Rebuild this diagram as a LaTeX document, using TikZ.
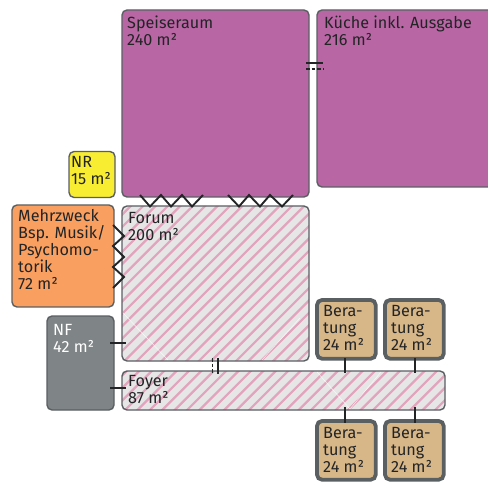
\documentclass[tikz,border=0pt]{standalone}
\usepackage{fontspec}
\setmainfont{Fira Sans}
\usetikzlibrary{calc}
\definecolor{bd}{HTML}{5A5F62}
\definecolor{purp}{HTML}{B966A4}
\definecolor{oran}{HTML}{F9A060}
\definecolor{yell}{HTML}{F9ED32}
\definecolor{grayr}{HTML}{7F8486}
\definecolor{tan2}{HTML}{D7B688}
\definecolor{hatchbg}{HTML}{E6E6E6}
\definecolor{hatchln}{HTML}{E2A4BC}
\definecolor{dk}{HTML}{222426}
\tikzset{
  x=1pt,y=-1pt,
  room/.style={draw=bd,line width=1.4pt,rounded corners=5pt,inner sep=0pt,outer sep=0pt,anchor=north west},
  berat/.style={room,draw=bd,line width=3.8pt,fill=tan2,minimum width=58.7pt,minimum height=58.7pt},
  lab/.style={anchor=north west,inner sep=0pt,align=left,font=\fontsize{16.2}{17}\selectfont,text=dk},
  conn/.style={draw=dk,line width=1.9pt},
  seam/.style={draw=white,line width=0.5pt,opacity=0.8},
  hatched/.style={fill=hatchbg,path picture={
    \foreach \k in {-90,...,90}{
      \draw[hatchln,line width=2.2pt] (\k*12.4+#1-500,500) -- (\k*12.4+#1+500,-500);
    }}},
}
\begin{document}
\begin{tikzpicture}
\useasboundingbox (0,0) rectangle (488,484);
\clip (0,0) rectangle (488,484);
% rooms
\node[room,fill=purp,minimum width=187pt,minimum height=187pt] (speise) at (122,10) {};
\node[room,fill=purp,minimum width=180pt,minimum height=177pt] (kueche) at (317,10) {};
\node[room,fill=yell,minimum width=46pt,minimum height=46pt] (nr) at (69,151.5) {};
\node[room,fill=oran,minimum width=102pt,minimum height=102pt] (mehr) at (12,205) {};
\node[room,hatched=-100.3,minimum width=187pt,minimum height=155pt] (forum) at (122,206) {};
\node[room,fill=grayr,minimum width=67pt,minimum height=94pt] (nf) at (47,316) {};
\node[room,hatched=-275.3,minimum width=323pt,minimum height=39pt] (foyer) at (122,371) {};
\node[berat] (b1) at (317,300) {};
\node[berat] (b2) at (385,300) {};
\node[berat] (b3) at (317,421) {};
\node[berat] (b4) at (385,421) {};
% seams
\draw[seam] (122.7,312.7)--(168,360);
\draw[seam] (262,360)--(300,318);
\draw[seam] (317,372)--(350,409)--(381,372);
% labels
\node[lab] (t1) at (127,16) {Speiseraum\\240 m²};
\node[lab] (t2) at (324,15.5) {Küche inkl. Ausgabe\\216 m²};
\node[lab] (t3) at (71,156) {NR\\15 m²};
\node[lab] (t4) at (18,209.5) {Mehrzweck\\Bsp. Musik/\\Psychomo-\\torik\\72 m²};
\node[lab] (t5) at (128,212) {Forum\\200 m²};
\node[lab,text=white] (t6) at (53,324) {NF\\42 m²};
\node[lab] (t7) at (128,375) {Foyer\\87 m²};
\node[lab] (t8) at (323,305) {Bera-\\tung\\24 m²};
\node[lab] (t9) at (391,305) {Bera-\\tung\\24 m²};
\node[lab] (t10) at (323,427) {Bera-\\tung\\24 m²};
\node[lab] (t11) at (391,427) {Bera-\\tung\\24 m²};
% zigzag connectors
\draw[conn] (140,195)--(150,206.5)--(161,195)--(171,206.5)--(182,195)--(192,206.5)--(203,195);
\draw[conn] (228,195)--(239,206.5)--(249,195)--(260,206.5)--(270,195)--(282,206.5)--(293,195);
\draw[conn] (113,225)--(124,236)--(113,246)--(124,257)--(113,267)--(124,277)--(113,288);
% doors
\coordinate (d1a) at (306,63.2); \coordinate (d1b) at (323,63.2);
\coordinate (d2a) at (306,69); \coordinate (d2b) at (323,69);
\draw[conn] (d1a)--(d1b);
\draw[conn,dash pattern=on 3.6pt off 2pt] (d2a)--(d2b);
\coordinate (d3a) at (218,358); \coordinate (d3b) at (218,374);
\coordinate (d4a) at (212.5,358); \coordinate (d4b) at (212.5,374);
\draw[conn] (d3a)--(d3b);
\draw[conn,dash pattern=on 3.6pt off 2pt] (d4a)--(d4b);
% plain connectors
\coordinate (n1) at (110,343); \coordinate (f1) at (126,343);
\coordinate (n2) at (110,388); \coordinate (f2) at (126,388);
\draw[conn] (n1)--(f1);
\draw[conn] (n2)--(f2);
\draw[conn] (345,358)--(345,373);
\draw[conn] (415,358)--(415,373);
\draw[conn] (345,407)--(345,423);
\draw[conn] (415,407)--(415,423);
\end{tikzpicture}
\end{document}
